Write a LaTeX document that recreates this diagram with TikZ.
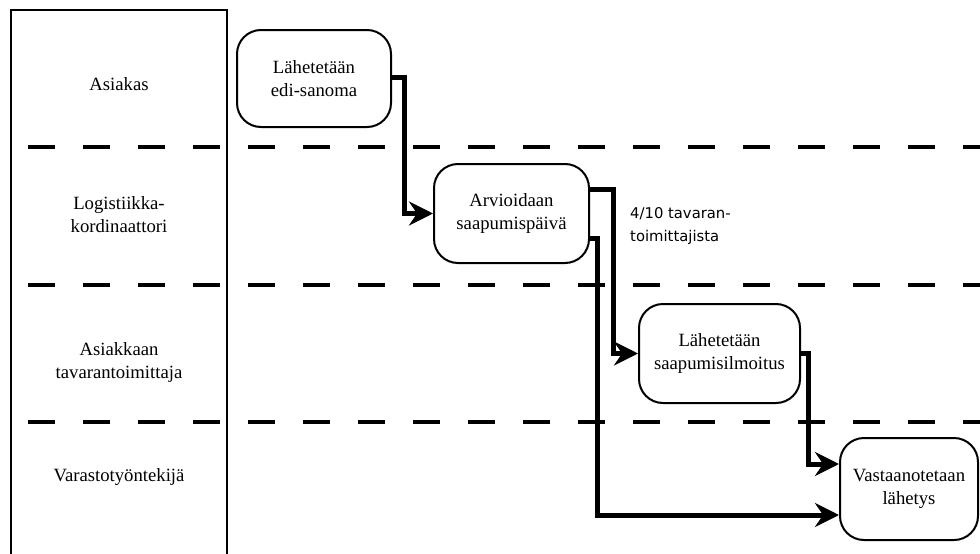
\documentclass[tikz,border=0pt]{standalone}
\usepackage{fontspec}
\setmainfont{Liberation Serif}
\newfontfamily\notesans{DejaVu Sans}
\usetikzlibrary{arrows.meta,calc,backgrounds}
\begin{document}
\begin{tikzpicture}[x=1pt,y=-1pt,
  stepbox/.style={draw=black,line width=2pt,fill=white,rounded corners=24pt,
    align=center,inner sep=0pt,font=\fontsize{18.7}{23}\selectfont},
  lanelabel/.style={align=center,inner sep=0pt,font=\fontsize{18.7}{23}\selectfont},
  notelabel/.style={align=left,inner sep=0pt,anchor=west,font=\notesans\fontsize{14.8}{23}\selectfont},
  lanesep/.style={line width=4.5pt,dash pattern=on 27pt off 28pt},
  flow/.style={line width=5pt,-{Stealth[length=24pt,width=24pt,inset=8pt]}},
]
\useasboundingbox (0,0) rectangle (980,554);
\clip (0,0) rectangle (980,554);

% lane header column
\draw[line width=2.2pt] (11,570) -- (11,10) -- (227,10) -- (227,570);
\node[lanelabel] (asiakas) at (119,84) {Asiakas};
\node[lanelabel] (logistiikka) at (119,215) {Logistiikka-\\kordinaattori};
\node[lanelabel] (toimittaja) at (119,362) {Asiakkaan\\tavarantoimittaja};
\node[lanelabel] (varasto) at (119,477) {Varastotyöntekijä};

% process steps
\node[stepbox,minimum width=154pt,minimum height=97pt] (edi) at (314,78.5) {Lähetetään\\edi-sanoma};
\node[stepbox,minimum width=155pt,minimum height=99pt] (arvio) at (511.5,213.5) {Arvioidaan\\saapumispäivä};
\node[stepbox,minimum width=161pt,minimum height=99pt] (ilmoitus) at (719.5,353.5) {Lähetetään\\saapumisilmoitus};
\node[stepbox,minimum width=138pt,minimum height=102pt] (vastaanotto) at (909,489) {Vastaanotetaan\\lähetys};

\node[notelabel] (osuus) at (630,226.5) {4/10 tavaran-\\toimittajista};

\begin{scope}[on background layer]
  % lane separators
  \draw[lanesep] (28,147) -- (990,147);
  \draw[lanesep] (28,285) -- (990,285);
  \draw[lanesep] (28,422) -- (990,422);
  % flows
  \draw[flow] ($(edi.east)+(0,-1.5)$) -- ++(12,0) |- (arvio.west);
  \draw[flow] ($(arvio.east)+(0,-24.5)$) -- (613,189) |- (ilmoitus.west);
  \draw[flow] ($(arvio.east)+(0,24.5)$) -- (597,238) |- ($(vastaanotto.west)+(0,26)$);
  \draw[flow] (ilmoitus.east) -- (808,353.5) |- ($(vastaanotto.west)+(0,-25)$);
\end{scope}
\end{tikzpicture}
\end{document}
